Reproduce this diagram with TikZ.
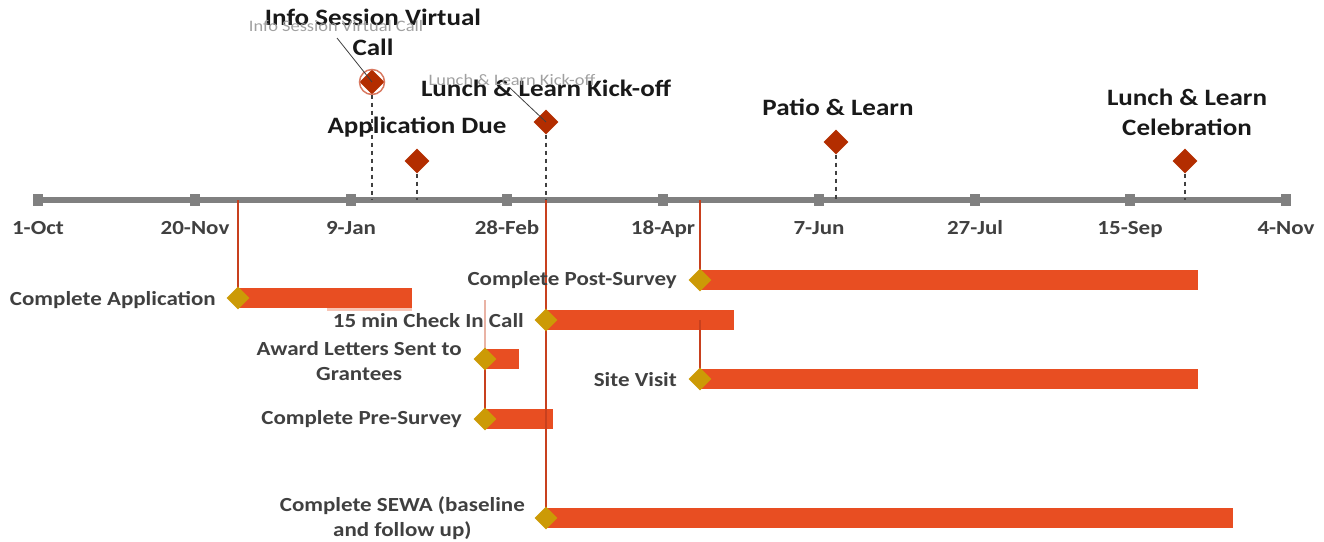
\documentclass[tikz,border=0pt]{standalone}
\usepackage{fontspec}
\setmainfont[FakeStretch=1.15]{Carlito}
\usetikzlibrary{shapes.geometric}
\definecolor{msred}{HTML}{B32D00}
\definecolor{gold}{HTML}{CC9A06}
\definecolor{barorange}{HTML}{E84E22}
\definecolor{vline}{HTML}{C8401E}
\definecolor{axisgray}{HTML}{808080}
\definecolor{labgray}{HTML}{404040}
\definecolor{ghost}{HTML}{A0A0A0}
\definecolor{pink}{HTML}{F8C4B4}
\begin{document}
\begin{tikzpicture}[x=1pt,y=-1pt,
  msd/.style={diamond, fill=msred, minimum size=25pt, inner sep=0pt},
  tdd/.style={diamond, fill=gold, minimum size=23pt, inner sep=0pt},
  barbox/.style={fill=barorange, draw=none, anchor=west, minimum height=20pt, inner sep=0pt},
  tickbox/.style={fill=axisgray, minimum width=10pt, minimum height=12pt, inner sep=0pt},
  axlab/.style={font=\fontsize{20}{22}\selectfont\bfseries, text=labgray, anchor=base},
  tlab/.style={font=\fontsize{20}{25}\selectfont\bfseries, text=labgray, anchor=east, align=center, inner sep=0pt},
  mlab/.style={font=\fontsize{23.5}{30}\selectfont\bfseries, align=center, text=black!90, inner sep=0pt},
  glab/.style={font=\fontsize{16}{18}\selectfont, text=ghost, inner sep=0pt},
  dline/.style={draw=labgray, line width=1.7pt, dash pattern=on 4pt off 4pt},
  rline/.style={draw=vline, line width=1.3pt},
  lead/.style={draw=black!75, line width=0.8pt}]
\useasboundingbox (0,0) rectangle (1324,541);

% axis
\coordinate (a0) at (38,200);
\coordinate (a1) at (1286,200);
\draw[axisgray, line width=6pt] (a0) -- (a1);
\foreach \x/\lab [count=\i] in {38/1-Oct,195/20-Nov,351/9-Jan,507/28-Feb,663/18-Apr,819/7-Jun,975/27-Jul,1130/15-Sep,1286/4-Nov}{
  \node[tickbox] (t\i) at (\x,200) {};
  \node[axlab] (l\i) at (\x,234) {\lab};
}

% milestone anchors on axis
\coordinate (m1a) at (372,200);
\coordinate (m2a) at (417,200);
\coordinate (m3a) at (546,200);
\coordinate (m4a) at (836,200);
\coordinate (m5a) at (1185,200);

% milestones
\node[msd] (m1) at (372,82) {};
\node[msd] (m2) at (417,161) {};
\node[msd] (m3) at (546,122) {};
\node[msd] (m4) at (836,142) {};
\node[msd] (m5) at (1185,161) {};
\draw[draw=vline!70, line width=1.5pt] (m1) circle (12.5pt);
\foreach \i in {1,...,5}{ \draw[dline] (m\i.south) -- (m\i a); }

\node[mlab] (ml1) at (373,32) {Info Session Virtual\\Call};
\node[mlab] (ml2) at (417,127) {Application Due};
\node[mlab] (ml3) at (546,88) {Lunch \& Learn Kick-off};
\node[mlab] (ml4) at (838,107) {Patio \& Learn};
\node[mlab] (ml5) at (1187,112) {Lunch \& Learn\\Celebration};

\node[glab] (g1) at (336,26) {Info Session Virtual Call};
\node[glab] (g3) at (512,80) {Lunch \& Learn Kick-off};
\coordinate (ld1) at (337,38);
\coordinate (ld3) at (510,88);
\draw[lead] (ld1) -- (m1.center);
\draw[lead] (ld3) -- (m3.center);

% task bars
\fill[pink] (327,304) rectangle (412,311);
\node[barbox, minimum width=174pt] (b1) at (238,298) {};
\node[barbox, minimum width=498pt] (b2) at (700,280) {};
\node[barbox, minimum width=188pt] (b3) at (546,320) {};
\node[barbox, minimum width=34pt] (b4) at (485,359) {};
\node[barbox, minimum width=68pt] (b5) at (485,419) {};
\node[barbox, minimum width=498pt] (b6) at (700,379) {};
\node[barbox, minimum width=687pt] (b7) at (546,518) {};

% task start coordinates
\coordinate (s1) at (238,298);
\coordinate (s2) at (700,280);
\coordinate (s3) at (546,320);
\coordinate (s4) at (485,359);
\coordinate (s5) at (485,419);
\coordinate (s6) at (700,379);
\coordinate (s7) at (546,518);
\coordinate (v1) at (238,200);
\coordinate (v2) at (700,200);
\coordinate (v3) at (546,200);
\coordinate (v4) at (485,300);
\coordinate (v6) at (700,320);

% vertical connectors
\draw[rline] (v1) -- (s1);
\draw[rline] (v2) -- (s2);
\draw[rline] (v3) -- (s7);
\draw[rline, opacity=0.4] (v4) -- (s4);
\draw[rline] (s4) -- (s5);
\draw[rline] (v6) -- (s6);

% task diamonds
\foreach \i in {1,...,7}{ \node[tdd] (d\i) at (s\i) {}; }

% task labels
\node[tlab] (tl1) at (216,300) {Complete Application};
\node[tlab] (tl2) at (677,280) {Complete Post-Survey};
\node[tlab] (tl3) at (524,321) {15 min Check In Call};
\node[tlab] (tl4) at (462,361) {Award Letters Sent to\\Grantees};
\node[tlab] (tl5) at (462,419) {Complete Pre-Survey};
\node[tlab] (tl6) at (677,380) {Site Visit};
\node[tlab] (tl7) at (525,518) {Complete SEWA (baseline\\and follow up)};
\end{tikzpicture}
\end{document}
